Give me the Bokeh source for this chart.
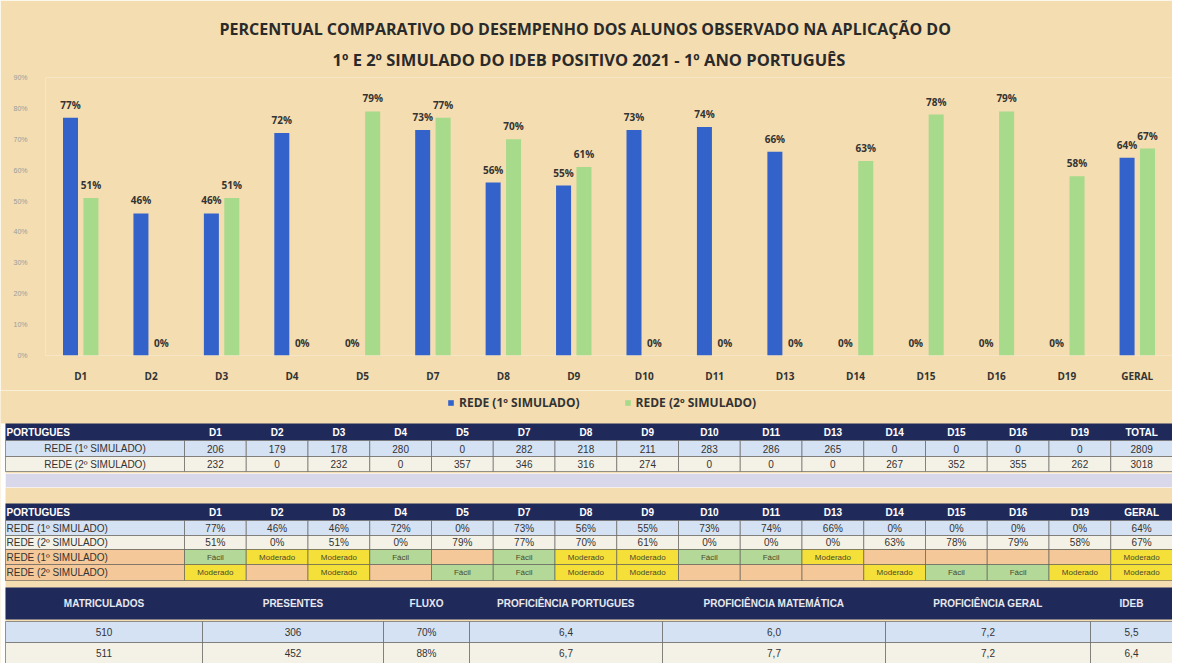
from bokeh.plotting import figure
from bokeh.models import (ColumnDataSource, FactorRange, Range1d, Legend, LegendItem,
                          NumeralTickFormatter, FixedTicker, Title)
from bokeh.transform import dodge
from bokeh.embed import file_html
from bokeh.resources import INLINE
from bokeh.core.properties import value

# ---------------- data ----------------
categories = ["D1", "D2", "D3", "D4", "D5", "D7", "D8", "D9", "D10", "D11",
              "D13", "D14", "D15", "D16", "D19", "GERAL"]
rede_1 = [0.77, 0.46, 0.46, 0.72, 0.00, 0.73, 0.56, 0.55, 0.73, 0.74,
          0.66, 0.00, 0.00, 0.00, 0.00, 0.64]
rede_2 = [0.51, 0.00, 0.51, 0.00, 0.79, 0.77, 0.70, 0.61, 0.00, 0.00,
          0.00, 0.63, 0.78, 0.79, 0.58, 0.67]
series_names = ["REDE (1º SIMULADO)", "REDE (2º SIMULADO)"]
y_ticks = [0.0, 0.1, 0.2, 0.3, 0.4, 0.5, 0.6, 0.7, 0.8, 0.9]

title_1 = "PERCENTUAL COMPARATIVO DO DESEMPENHO DOS ALUNOS OBSERVADO NA APLICAÇÃO DO"
title_2 = "1º E 2º SIMULADO DO IDEB POSITIVO 2021 - 1º ANO PORTUGUÊS"

acertos_1 = [206, 179, 178, 280, 0, 282, 218, 211, 283, 286, 265, 0, 0, 0, 0, 2809]
acertos_2 = [232, 0, 232, 0, 357, 346, 316, 274, 0, 0, 0, 267, 352, 355, 262, 3018]
nivel_1 = ["Fácil", "Moderado", "Moderado", "Fácil", "", "Fácil", "Moderado", "Moderado",
           "Fácil", "Fácil", "Moderado", "", "", "", "", "Moderado"]
nivel_2 = ["Moderado", "", "Moderado", "", "Fácil", "Fácil", "Moderado", "Moderado",
           "", "", "", "Moderado", "Fácil", "Fácil", "Moderado", "Moderado"]

resumo_headers = ["MATRICULADOS", "PRESENTES", "FLUXO", "PROFICIÊNCIA PORTUGUES",
                  "PROFICIÊNCIA MATEMÁTICA", "PROFICIÊNCIA GERAL", "IDEB"]
resumo_1 = ["510", "306", "70%", "6,4", "6,0", "7,2", "5,5"]
resumo_2 = ["511", "452", "88%", "6,7", "7,7", "7,2", "6,4"]

# ---------------- styles ----------------
W = 1172
BEIGE = "#f3ddb1"
BLUE = "#3362cb"
GREEN = "#a7da8b"
NAVY = "#1f2a5a"
LIGHT_BLUE = "#d4e2f3"
CREAM = "#f4f1e6"
LAVENDER = "#d9d7ea"
ORANGE = "#f4c898"
CELL_GREEN = "#b4d898"
CELL_YELLOW = "#f5e03a"
DARK = "#333333"
FONT = "Open Sans"
TFONT = "Liberation Sans"

# ---------------- chart ----------------
src = ColumnDataSource(dict(
    cat=categories, r1=rede_1, r2=rede_2,
    l1=[f"{round(v * 100)}%" for v in rede_1],
    l2=[f"{round(v * 100)}%" for v in rede_2],
))

p = figure(x_range=FactorRange(*categories), y_range=Range1d(0, 0.9),
           width=W, height=390, output_backend="svg", toolbar_location=None,
           background_fill_color=BEIGE, border_fill_color=BEIGE,
           outline_line_color=None, min_border_left=45, min_border_right=0,
           min_border_top=77, min_border_bottom=35)

off = 0.145
bw = 0.213
b1 = p.vbar(x=dodge("cat", -off, range=p.x_range), top="r1", width=bw,
            source=src, fill_color=BLUE, line_color=None)
b2 = p.vbar(x=dodge("cat", off, range=p.x_range), top="r2", width=bw,
            source=src, fill_color=GREEN, line_color=None)
for xo, col in ((-off, "l1"), (off, "l2")):
    p.text(x=dodge("cat", xo, range=p.x_range), y=col.replace("l", "r"), text=col,
           source=src, text_align="center", text_baseline="bottom", y_offset=-6,
           text_font_size="10px", text_font_style="bold", text_color=DARK,
           text_font=value(FONT))

p.title.text = title_1
p.title.align = "left"
p.title.offset = 174
p.title.text_font = FONT
p.title.text_font_size = "16px"
p.title.text_color = "#2a2a2a"
p.title.standoff = -2
p.add_layout(Title(text=title_2, align="left", offset=287, text_font=FONT,
                   text_font_size="16.5px", text_color="#2a2a2a", standoff=14), "above")

p.xgrid.grid_line_color = None
p.ygrid.grid_line_color = None
p.yaxis.ticker = FixedTicker(ticks=y_ticks)
p.yaxis.formatter = NumeralTickFormatter(format="0%")
p.yaxis.major_label_text_font_size = "7px"
p.yaxis.major_label_text_color = "#9c9c9c"
p.yaxis.major_label_standoff = 12
p.xaxis.major_label_text_font_size = "10px"
p.xaxis.major_label_text_font_style = "bold"
p.xaxis.major_label_text_color = DARK
p.xaxis.major_label_text_font = FONT
p.xaxis.major_label_standoff = 7
for ax in (p.xaxis, p.yaxis):
    ax.axis_line_color = None
    ax.major_tick_line_color = None
    ax.minor_tick_line_color = None

# ---------------- legend + tables ----------------
TH = 273
t = figure(width=W, height=TH, x_range=Range1d(0, W), y_range=Range1d(TH, 0),
           output_backend="svg", toolbar_location=None, min_border=0,
           x_axis_location=None, y_axis_location=None,
           background_fill_color=BEIGE, border_fill_color=BEIGE, outline_line_color=None)
t.grid.visible = False

key_src = ColumnDataSource(dict(x=[0.0], top=[0.0]))
k1 = t.vbar(x="x", top="top", width=0.0, source=key_src, fill_color=BLUE, line_color=None)
k2 = t.vbar(x="x", top="top", width=0.0, source=key_src, fill_color=GREEN, line_color=None)
legend = Legend(items=[LegendItem(label=series_names[0], renderers=[k1]),
                       LegendItem(label=series_names[1], renderers=[k2])],
                orientation="horizontal", location=(447, TH - 21),
                label_text_font_size="12px", label_text_font_style="bold",
                label_text_color=DARK, label_text_font=FONT,
                glyph_width=7, glyph_height=7, spacing=44, padding=2, margin=0,
                border_line_color=None, background_fill_alpha=0)
t.add_layout(legend, "center")

X0 = 5
LBL_R = 184
COL_W = (W - LBL_R) / 16
Y0 = 33


def col_left(i):
    return LBL_R + i * COL_W


def boxes(rects, color, line="#555555"):
    t.quad(left=[r[0] for r in rects], right=[r[1] for r in rects],
           top=[r[2] + Y0 for r in rects], bottom=[r[3] + Y0 for r in rects],
           fill_color=color, line_color=line, line_width=0.6)


def texts(xs, ys, labels, size="10px", color=DARK, align="center", style="normal", font=TFONT):
    t.text(x=xs, y=[y + Y0 for y in ys], text=labels, text_align=align, text_baseline="middle",
           text_font_size=size, text_color=color, text_font_style=style,
           text_font=value(font))


def row_cells(y0, y1, fill, label_fill=None):
    boxes([(X0, LBL_R, y0, y1)], label_fill or fill)
    boxes([(col_left(i), col_left(i + 1), y0, y1) for i in range(16)], fill)


centers = [col_left(i) + COL_W / 2 for i in range(16)]

# white strip at the left edge (paper margin)
boxes([(0, X0, 0, TH - Y0)], "white", line=None)

# table 1 (acertos)
h = (0, 17)
boxes([(X0, W, h[0], h[1])], NAVY, line=None)
texts([X0 + 1], [(h[0] + h[1]) / 2], ["PORTUGUES"], color="white", align="left", style="bold")
texts(centers, [(h[0] + h[1]) / 2] * 16, categories[:-1] + ["TOTAL"], color="white", style="bold")
for (y0, y1), fill, name, vals in (((17, 33), LIGHT_BLUE, series_names[0], acertos_1),
                                   ((33, 48), CREAM, series_names[1], acertos_2)):
    row_cells(y0, y1, fill)
    ym = (y0 + y1) / 2
    texts([(X0 + LBL_R) / 2], [ym], [name])
    texts(centers, [ym] * 16, [str(v) for v in vals])
boxes([(X0, W, 50, 64)], LAVENDER, line="#ffffff")

# table 2 (percentuais)
h = (80, 97)
boxes([(X0, W, h[0], h[1])], NAVY, line=None)
texts([X0 + 1], [(h[0] + h[1]) / 2], ["PORTUGUES"], color="white", align="left", style="bold")
texts(centers, [(h[0] + h[1]) / 2] * 16, categories, color="white", style="bold")
for (y0, y1), fill, name, vals in (((97, 112), LIGHT_BLUE, series_names[0], rede_1),
                                   ((112, 126), CREAM, series_names[1], rede_2)):
    row_cells(y0, y1, fill)
    ym = (y0 + y1) / 2
    texts([X0 + 1], [ym], [name], align="left")
    texts(centers, [ym] * 16, [f"{round(v * 100)}%" for v in vals])
cell_fill = {"Fácil": CELL_GREEN, "Moderado": CELL_YELLOW, "": ORANGE}
for (y0, y1), name, niv in (((126, 141), series_names[0], nivel_1),
                            ((141, 157), series_names[1], nivel_2)):
    boxes([(X0, LBL_R, y0, y1)], ORANGE)
    t.quad(left=[col_left(i) for i in range(16)], right=[col_left(i + 1) for i in range(16)],
           top=[y0 + Y0] * 16, bottom=[y1 + Y0] * 16, fill_color=[cell_fill[n] for n in niv],
           line_color="#555555", line_width=0.6)
    ym = (y0 + y1) / 2
    texts([X0 + 1], [ym], [name], align="left")
    texts(centers, [ym] * 16, niv, size="8px", color="#4a4a2a")

# table 3 (resumo)
edges = [X0, 202, 383, 469, 662, 885, 1090, W]
rc = [(edges[i] + edges[i + 1]) / 2 for i in range(7)]
h = (164, 196)
boxes([(X0, W, h[0], h[1])], NAVY, line=None)
texts(rc, [(h[0] + h[1]) / 2] * 7, resumo_headers, color="#e8e8f0", style="bold", size="10px")
for (y0, y1), fill, vals in (((198, 219), LIGHT_BLUE, resumo_1),
                             ((219, 240), CREAM, resumo_2)):
    boxes([(edges[i], edges[i + 1], y0, y1) for i in range(7)], fill)
    texts(rc, [(y0 + y1) / 2] * 7, vals)

open("out.html", "w").write(file_html([p, t], INLINE))
